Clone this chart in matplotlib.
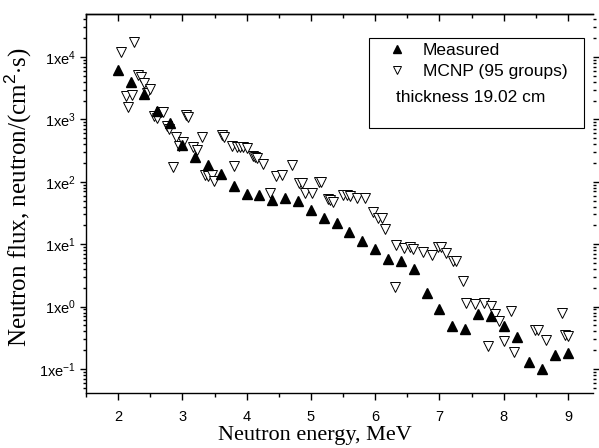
import numpy as np
import matplotlib
matplotlib.use('Agg')
import matplotlib.pyplot as plt
from matplotlib.ticker import LogLocator, FuncFormatter, MultipleLocator, NullFormatter, FixedLocator
from matplotlib.lines import Line2D
from matplotlib.patches import Rectangle

# Measured spectrum (filled triangles)
meas_E = [2.0, 2.2, 2.4, 2.6, 2.8, 3.0, 3.2, 3.4, 3.6, 3.8, 4.0, 4.2, 4.4, 4.6, 4.8,
          5.0, 5.2, 5.4, 5.6, 5.8, 6.0, 6.2, 6.4, 6.6, 6.8, 7.0, 7.2, 7.4, 7.6, 7.8,
          8.0, 8.2, 8.4, 8.6, 8.8, 9.0]
meas_flux = [6300, 4000, 2550, 1380, 870, 390, 250, 186, 133, 85, 63, 62, 51, 54, 49,
             35, 26.6, 21.6, 15.9, 11.3, 8.5, 5.8, 5.4, 4.0, 1.63, 0.91, 0.49, 0.44, 0.77, 0.71,
             0.49, 0.32, 0.13, 0.10, 0.17, 0.18]

# MCNP (95 groups) (open triangles)
mcnp_E = [2.05, 2.12, 2.16, 2.21, 2.25, 2.31, 2.35, 2.40, 2.45, 2.49,
          2.56, 2.60, 2.67, 2.70, 2.76, 2.79, 2.86, 2.90, 2.94, 3.01,
          3.05, 3.09, 3.16, 3.22, 3.30, 3.35, 3.40, 3.46, 3.49, 3.61,
          3.65, 3.77, 3.80, 3.85, 3.90, 3.95, 4.00, 4.10, 4.13, 4.16,
          4.25, 4.37, 4.46, 4.55, 4.70, 4.82, 4.86, 4.91, 5.01, 5.12,
          5.16, 5.26, 5.30, 5.35, 5.50, 5.56, 5.61, 5.71, 5.84, 5.96,
          6.05, 6.10, 6.15, 6.31, 6.33, 6.45, 6.54, 6.59, 6.75, 6.88,
          6.98, 7.02, 7.11, 7.21, 7.26, 7.36, 7.41, 7.55, 7.70, 7.76,
          7.81, 7.86, 7.92, 8.01, 8.11, 8.16, 8.49, 8.54, 8.66, 8.91,
          8.96, 9.00]
mcnp_flux = [12200, 2370, 1560, 2450, 17200, 5100, 4800, 3900, 2600, 3040,
             1130, 1040, 1330, 1300, 770, 690, 174, 530, 375, 440,
             1170, 1100, 355, 325, 530, 128, 124, 128, 104, 560,
             530, 375, 179, 355, 355, 355, 350, 260, 250, 245,
             193, 66, 125, 127, 186, 97, 97, 66, 66, 98,
             98, 53, 51, 48, 61, 61, 60, 55, 55, 33,
             26, 26, 17.5, 2.04, 9.7, 8.6, 9.1, 8.4, 7.6, 6.7,
             9.1, 9.0, 7.1, 5.4, 5.4, 2.6, 1.15, 1.10, 1.15, 0.23,
             1.02, 0.76, 0.59, 0.28, 0.85, 0.19, 0.42, 0.42, 0.29, 0.78,
             0.35, 0.34]

x_ticks = [2, 3, 4, 5, 6, 7, 8, 9]
y_ticks = [0.1, 1, 10, 100, 1000, 10000]
legend_labels = ["Measured", "MCNP (95 groups)"]
note_text = "thickness 19.02 cm"
xlabel = "Neutron energy, MeV"
ylabel = "Neutron flux, neutron/(cm$^2$$\\cdot$s)"

plt.rcParams['font.family'] = ['Liberation Sans', 'DejaVu Sans']
plt.rcParams['mathtext.fontset'] = 'custom'
plt.rcParams['mathtext.rm'] = 'Liberation Sans'
plt.rcParams['mathtext.it'] = 'Liberation Sans:italic'
plt.rcParams['mathtext.bf'] = 'Liberation Sans:bold'

W, H = 599, 448
fig = plt.figure(figsize=(W / 100, H / 100), dpi=100)
L, R, T, B = 86, 593, 14, 393
ax = fig.add_axes([L / W, 1 - B / H, (R - L) / W, (B - T) / H])

ax.plot(mcnp_E, mcnp_flux, linestyle='none', marker='v', ms=7, mfc='white',
        mec='black', mew=0.7, zorder=3)
ax.plot(meas_E, meas_flux, linestyle='none', marker='^', ms=7, color='black', zorder=4)

ax.set_yscale('log')
ax.set_xlim(1.5, 9.39)
ax.set_ylim(10 ** -1.385, 10 ** 4.689)

ax.xaxis.set_major_locator(FixedLocator(x_ticks))
ax.xaxis.set_minor_locator(MultipleLocator(0.5))
ax.yaxis.set_major_locator(FixedLocator(y_ticks))
ax.yaxis.set_minor_locator(LogLocator(base=10, subs=np.arange(2, 10), numticks=20))
ax.yaxis.set_minor_formatter(NullFormatter())
ax.yaxis.set_major_formatter(FuncFormatter(lambda v, p: r'1xe$^{%d}$' % int(round(np.log10(v)))))

for s in ax.spines.values():
    s.set_linewidth(1.0)
ax.spines['right'].set_visible(False)

ax.tick_params(axis='x', which='major', direction='out', length=5, width=1, labelsize=10.5, pad=7)
ax.tick_params(axis='x', which='minor', direction='out', length=3, width=1)
ax.tick_params(axis='y', which='major', direction='out', length=4.5, width=1,
               left=True, right=True, labelsize=10.5, pad=3)
ax.tick_params(axis='y', which='minor', direction='out', length=2.5, width=1,
               left=True, right=True)

sec = ax.secondary_xaxis('top')
sec.xaxis.set_major_locator(FixedLocator(x_ticks))
sec.xaxis.set_minor_locator(MultipleLocator(0.5))
sec.tick_params(which='major', direction='in', length=5, width=1, labeltop=False)
sec.tick_params(which='minor', direction='in', length=3, width=1)
sec.spines['top'].set_linewidth(1.0)

fig.text(315 / W, 1 - 440 / H, xlabel, family='Liberation Serif', fontsize=16,
         ha='center', va='baseline')
fig.text(27 / W, 1 - 197 / H, ylabel, family='Liberation Serif', fontsize=18,
         rotation=90, rotation_mode='anchor', ha='center', va='baseline')

# legend
bx0, bx1, by0, by1 = 369, 584, 38, 128
ax.add_patch(Rectangle(((bx0 - L) / (R - L), (B - by1) / (B - T)),
                       (bx1 - bx0) / (R - L), (by1 - by0) / (B - T),
                       transform=ax.transAxes, fill=False, lw=0.8, ec='black', zorder=5))
handles = [Line2D([], [], linestyle='none', marker='^', ms=6, color='black'),
           Line2D([], [], linestyle='none', marker='v', ms=6, mfc='white', mec='black', mew=0.7)]
leg = ax.legend(handles, legend_labels, loc='upper left',
                bbox_to_anchor=((383 - L) / (R - L), (B - 39) / (B - T)),
                frameon=False, fontsize=12.5, handlelength=1.2, handletextpad=0.9,
                labelspacing=0.38, borderpad=0.2, borderaxespad=0)
ax.text((396 - L) / (R - L), (B - 97) / (B - T), note_text, transform=ax.transAxes,
        fontsize=12.5, ha='left', va='center')

fig.savefig('out.png', dpi=100)
